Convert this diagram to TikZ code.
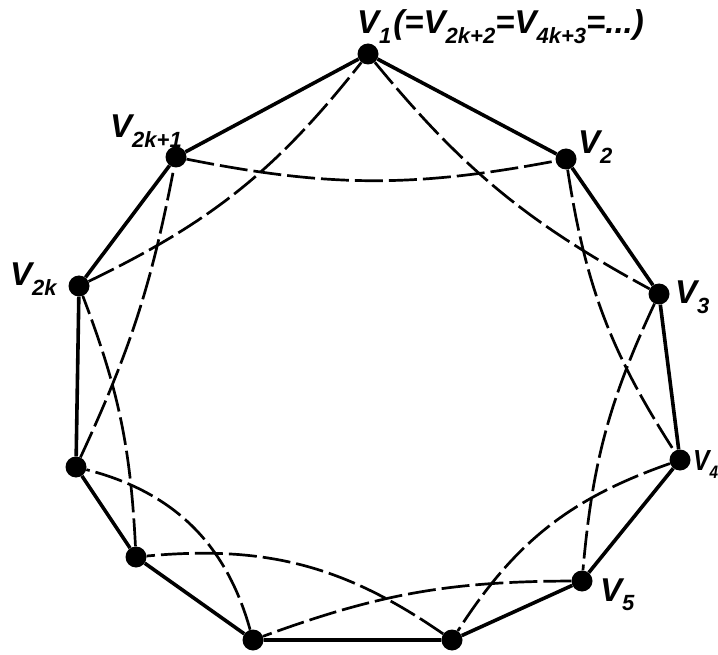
\documentclass[tikz,border=0pt]{standalone}
\usepackage{fontspec}
\setmainfont{Liberation Sans}
\newcommand\lsub[1]{\raisebox{-0.28em}{\fontsize{22pt}{22pt}\selectfont #1}}
\newcommand\ssub[1]{\raisebox{-0.28em}{\fontsize{18pt}{18pt}\selectfont #1}}
\begin{document}
\begin{tikzpicture}[x=1pt,y=-1pt,
  vtx/.style={circle,fill=black,inner sep=0pt,minimum size=21pt},
  edge/.style={line width=3.6pt},
  chord/.style={line width=2.7pt,dash pattern=on 28pt off 6pt},
  lab/.style={font=\fontsize{33pt}{33pt}\selectfont\bfseries\itshape,inner sep=0pt,anchor=base west}]
\useasboundingbox (0,0) rectangle (718,655);
\fill[white] (0,0) rectangle (718,655);
% vertices (clockwise from top)
\node[vtx] (v1) at (368,54) {};
\node[vtx] (v2) at (566,159) {};
\node[vtx] (v3) at (659,294) {};
\node[vtx] (v4) at (680,460) {};
\node[vtx] (v5) at (582,581) {};
\node[vtx] (br) at (452,640) {};
\node[vtx] (bl) at (253,640) {};
\node[vtx] (la) at (136,557) {};
\node[vtx] (lb) at (76,467) {};
\node[vtx] (v2k) at (79,286) {};
\node[vtx] (v2k1) at (176,157) {};
% polygon edges
\draw[edge] (v1) -- (v2) -- (v3) -- (v4) -- (v5) -- (br) -- (bl) -- (la) -- (lb) -- (v2k) -- (v2k1) -- (v1);
% chords
\draw[chord] (v1) to[bend right=11] (v3);
\draw[chord] (v2) to[bend right=12] (v4);
\draw[chord] (v3) to[bend right=10] (v5);
\draw[chord] (v4) to[bend right=19] (br);
\draw[chord] (v5) to[bend right=10] (bl);
\draw[chord] (br) to[bend right=20] (la);
\draw[chord] (bl) to[bend right=30] (lb);
\draw[chord] (la) to[bend right=9] (v2k);
\draw[chord] (lb) to[bend right=7] (v2k1);
\draw[chord] (v2k) to[bend right=13] (v1);
\draw[chord] (v2k1) to[bend right=11] (v2);
% labels
\node[lab] (t1) at (357,34) {V\lsub{1}\kern2pt(=V\lsub{2k+2}=V\lsub{4k+3}=...)};
\node[lab] (t2) at (578,154) {V\lsub{2}};
\node[lab] (t3) at (675,304) {V\lsub{3}};
\node[lab] (t4) at (693,470) {\scalebox{0.85}[1]{\fontsize{29pt}{29pt}\selectfont\bfseries\itshape V\ssub{4}}};
\node[lab] (t5) at (600,601) {V\lsub{5}};
\node[lab] (t2k) at (10,286) {V\lsub{2k}};
\node[lab] (t2k1) at (110,138) {V\lsub{2k+1}};
\end{tikzpicture}
\end{document}
